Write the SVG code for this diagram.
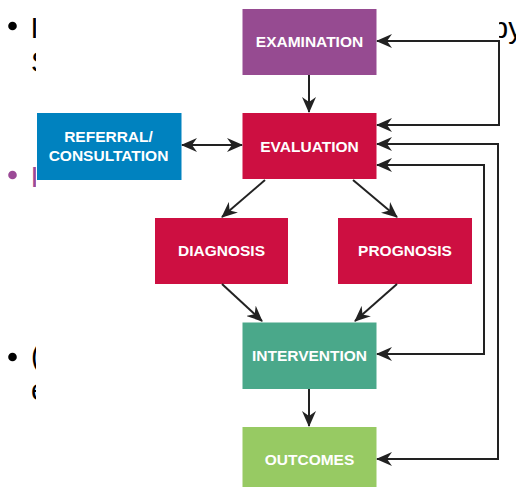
<svg xmlns="http://www.w3.org/2000/svg" width="516" height="487" viewBox="0 0 516 487">
<style>
.bg{font-family:"Liberation Sans",Arial,sans-serif;font-size:29px;fill:#000}
.lbl{font-family:"Liberation Sans",Arial,sans-serif;font-size:15.5px;font-weight:bold;fill:#fff;text-anchor:middle}
.c{fill:none;stroke:#222;stroke-width:2}
</style>
<defs>
<marker id="ah" viewBox="0 0 16 14" refX="15" refY="7" markerWidth="16" markerHeight="14" markerUnits="userSpaceOnUse" orient="auto-start-reverse">
<path d="M0,0 L16,7 L0,14 L5,7 Z" fill="#222"/>
</marker>
</defs>
<rect width="516" height="487" fill="#fff"/>
<g id="background-text">
<circle cx="12.5" cy="26" r="4.3" fill="#000"/>
<text class="bg" x="30.5" y="38">I</text>
<text class="bg" x="31" y="72">S</text>
<text class="bg" x="492" y="38">py</text>
<circle cx="12.5" cy="175" r="4.3" fill="#9B4A96"/>
<text class="bg" x="30.5" y="187" style="fill:#9B4A96">I</text>
<circle cx="12.5" cy="357" r="4.3" fill="#000"/>
<text class="bg" x="31" y="366">(</text>
<text class="bg" x="31" y="400">e</text>
<rect x="36" y="0" width="463" height="487" fill="#fff"/>
</g>
<g id="examination"><rect x="242.5" y="9" width="134" height="66" fill="#964B91"/><text class="lbl" x="309.5" y="47">EXAMINATION</text></g>
<g id="evaluation"><rect x="242.5" y="113" width="134" height="66" fill="#CD0F41"/><text class="lbl" x="309.5" y="151.5">EVALUATION</text></g>
<g id="referral"><rect x="37" y="113" width="144.5" height="67" fill="#0082BF"/><text class="lbl" x="108.5" y="142">REFERRAL/</text><text class="lbl" x="108.5" y="161">CONSULTATION</text></g>
<g id="diagnosis"><rect x="155" y="218" width="133" height="66" fill="#CD0F41"/><text class="lbl" x="221.5" y="256">DIAGNOSIS</text></g>
<g id="prognosis"><rect x="338" y="218" width="134" height="66" fill="#CD0F41"/><text class="lbl" x="405" y="256">PROGNOSIS</text></g>
<g id="intervention"><rect x="242.5" y="322.5" width="134" height="66.5" fill="#4AA88A"/><text class="lbl" x="309.5" y="361">INTERVENTION</text></g>
<g id="outcomes"><rect x="242.5" y="427" width="134" height="62" fill="#97CA63"/><text class="lbl" x="309.5" y="465">OUTCOMES</text></g>
<g id="connectors">
<path class="c" d="M309,75 L309,112" marker-end="url(#ah)"/>
<path class="c" d="M182,145 L242,145" marker-start="url(#ah)" marker-end="url(#ah)"/>
<path class="c" d="M265,180 L222,217" marker-end="url(#ah)"/>
<path class="c" d="M353,180 L397,217" marker-end="url(#ah)"/>
<path class="c" d="M222,284 L262,321" marker-end="url(#ah)"/>
<path class="c" d="M397,284 L355,321" marker-end="url(#ah)"/>
<path class="c" d="M309,389 L309,426" marker-end="url(#ah)"/>
<path class="c" d="M377,41 L499,41 L499,125 L377,125" marker-start="url(#ah)" marker-end="url(#ah)"/>
<path class="c" d="M377,144 L498,144 L498,459 L377,459" marker-start="url(#ah)" marker-end="url(#ah)"/>
<path class="c" d="M377,165 L484,165 L484,354 L377,354" marker-start="url(#ah)" marker-end="url(#ah)"/>
</g>
</svg>
